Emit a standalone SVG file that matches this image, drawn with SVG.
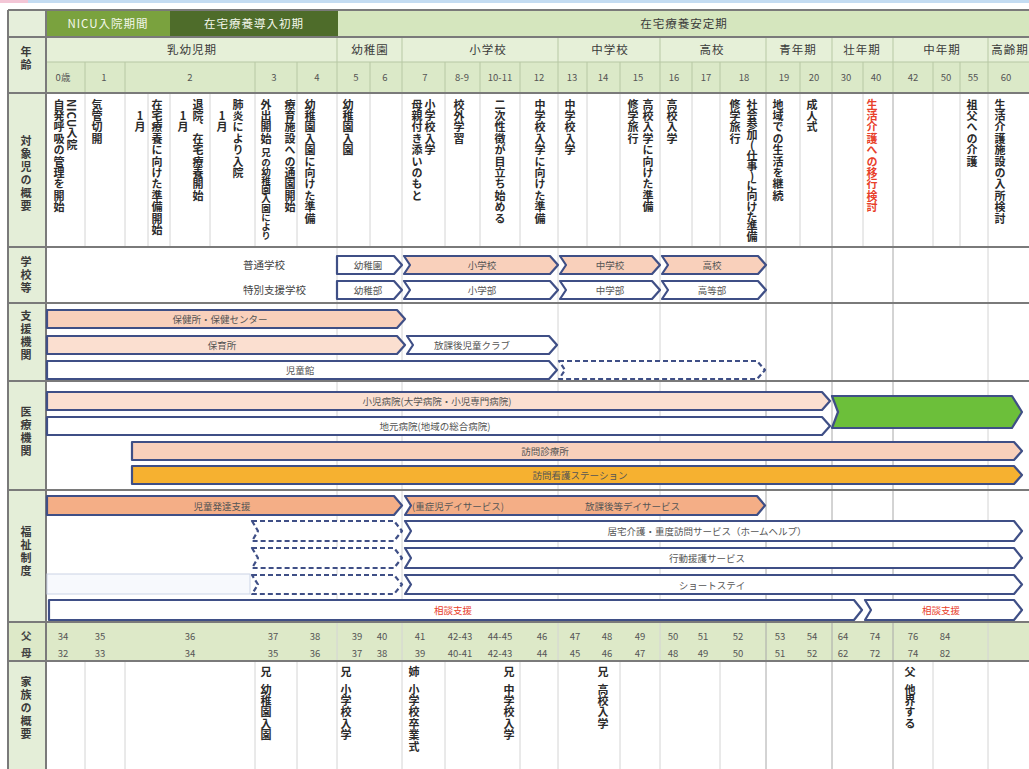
<svg xmlns="http://www.w3.org/2000/svg" width="1029" height="769" viewBox="0 0 1029 769">
<defs>
<style>
text{font-family:"Noto Sans CJK JP","Noto Sans",sans-serif;}
.v{writing-mode:vertical-rl;text-orientation:upright;font-size:11px;font-weight:bold;fill:#2a2a2a;letter-spacing:0.4px}
.lab{writing-mode:vertical-rl;text-orientation:upright;font-size:11px;font-weight:bold;fill:#3a3a3a;letter-spacing:2px}
.h{font-size:11.5px;fill:#3a3a3a;text-anchor:middle;letter-spacing:1px}
.hw{font-size:11.5px;fill:#f4f8ec;text-anchor:middle;letter-spacing:1px}
.n{font-size:9.5px;fill:#555;text-anchor:middle}
.bt{font-size:9.5px;fill:#555;text-anchor:middle}
.bs{font-size:9.5px;fill:#555;text-anchor:start}
.sl{font-size:10.5px;fill:#444}
.red{fill:#e8402a}
.bar{stroke:#3f4f86;stroke-width:2.2;stroke-linejoin:round}
.dash{stroke:#3f4f86;stroke-width:2.2;stroke-dasharray:5 3;fill:#fff;stroke-linejoin:round}
.pk{fill:#f9d0bb}
.pk2{fill:#fbdfd0}
.or{fill:#f4ae86}
.wh{fill:#fff}
.yl{fill:#f6b130}
.gr{fill:#6cbf3a}
.g{stroke:#d4d4d4;stroke-width:1}
.gh{stroke:#b7c8a4;stroke-width:1}
.sep{stroke:#7a7a7a;stroke-width:2}
</style>
</defs>
<rect x="0" y="0" width="1029" height="769" fill="#fff"/>
<rect x="0" y="0" width="28" height="3" fill="#f3c6d6"/>
<rect x="28" y="0" width="1001" height="3" fill="#c4dcf2"/>

<g id="header">
<rect x="8" y="10" width="1021" height="83" fill="#e2edd3"/>
<rect x="8" y="10" width="39" height="27" fill="#e6efdb"/>
<rect x="47" y="10" width="123" height="27" fill="#7aa23e"/>
<rect x="170" y="10" width="168" height="27" fill="#4e6c2a"/>
<rect x="338" y="10" width="691" height="27" fill="#d5e6be"/>
<rect x="47" y="37" width="982" height="25" fill="#e6f0d8"/>
<rect x="47" y="62" width="982" height="31" fill="#dbe9c8"/>
<text class="hw" x="108" y="28">NICU入院期間</text>
<text class="hw" x="254" y="28">在宅療養導入初期</text>
<text class="h" x="684" y="28">在宅療養安定期</text>
<g class="gh">
<line x1="337" y1="37" x2="337" y2="93"/><line x1="402" y1="37" x2="402" y2="93"/>
<line x1="558" y1="37" x2="558" y2="93"/><line x1="660" y1="37" x2="660" y2="93"/>
<line x1="766" y1="37" x2="766" y2="93"/><line x1="832" y1="37" x2="832" y2="93"/>
<line x1="893" y1="37" x2="893" y2="93"/><line x1="988" y1="37" x2="988" y2="93"/>
<line x1="85" y1="62" x2="85" y2="93"/><line x1="125" y1="62" x2="125" y2="93"/>
<line x1="255" y1="62" x2="255" y2="93"/><line x1="297" y1="62" x2="297" y2="93"/>
<line x1="370" y1="62" x2="370" y2="93"/><line x1="445" y1="62" x2="445" y2="93"/>
<line x1="480" y1="62" x2="480" y2="93"/><line x1="520" y1="62" x2="520" y2="93"/>
<line x1="587" y1="62" x2="587" y2="93"/><line x1="620" y1="62" x2="620" y2="93"/>
<line x1="692" y1="62" x2="692" y2="93"/><line x1="720" y1="62" x2="720" y2="93"/>
<line x1="800" y1="62" x2="800" y2="93"/><line x1="863" y1="62" x2="863" y2="93"/>
<line x1="933" y1="62" x2="933" y2="93"/><line x1="960" y1="62" x2="960" y2="93"/>
</g>
<text class="h" x="192" y="54">乳幼児期</text>
<text class="h" x="370" y="54">幼稚園</text>
<text class="h" x="488" y="54">小学校</text>
<text class="h" x="610" y="54">中学校</text>
<text class="h" x="712" y="54">高校</text>
<text class="h" x="798" y="54">青年期</text>
<text class="h" x="862" y="54">壮年期</text>
<text class="h" x="942" y="54">中年期</text>
<text class="h" x="1010" y="54">高齢期</text>
<g class="n">
<text x="63" y="81">0歳</text><text x="104" y="81">1</text><text x="190" y="81">2</text>
<text x="274" y="81">3</text><text x="317" y="81">4</text><text x="356" y="81">5</text>
<text x="385" y="81">6</text><text x="425" y="81">7</text><text x="462" y="81">8-9</text>
<text x="500" y="81">10-11</text><text x="539" y="81">12</text><text x="572" y="81">13</text>
<text x="603" y="81">14</text><text x="638" y="81">15</text><text x="674" y="81">16</text>
<text x="706" y="81">17</text><text x="744" y="81">18</text><text x="784" y="81">19</text>
<text x="814" y="81">20</text><text x="846" y="81">30</text><text x="876" y="81">40</text>
<text x="913" y="81">42</text><text x="946" y="81">50</text><text x="973" y="81">55</text>
<text x="1006" y="81">60</text>
</g>
</g>

<g id="leftcol">
<rect x="8" y="37" width="39" height="732" fill="#e4eed8"/>
<rect x="8" y="622" width="1021" height="39" fill="#dde9c8"/>
<text class="lab" x="26" y="46">年齢</text>
<text class="lab" x="26" y="135">対象児の概要</text>
<text class="lab" x="26" y="256">学校等</text>
<text class="lab" x="26" y="310">支援機関</text>
<text class="lab" x="26" y="406">医療機関</text>
<text class="lab" x="26" y="526">福祉制度</text>
<text class="sl" x="21" y="640" font-weight="bold">父</text>
<text class="sl" x="21" y="657" font-weight="bold">母</text>
<text class="lab" x="26" y="676">家族の概要</text>
</g>

<g id="grid" class="g">
<line x1="85" y1="93" x2="85" y2="247"/><line x1="125" y1="93" x2="125" y2="247"/>
<line x1="148" y1="93" x2="148" y2="247"/><line x1="170" y1="93" x2="170" y2="247"/>
<line x1="210" y1="93" x2="210" y2="247"/><line x1="255" y1="93" x2="255" y2="247"/>
<line x1="297" y1="93" x2="297" y2="247"/><line x1="337" y1="93" x2="337" y2="769"/>
<line x1="370" y1="93" x2="370" y2="247"/><line x1="402" y1="93" x2="402" y2="769"/>
<line x1="445" y1="93" x2="445" y2="247"/><line x1="480" y1="93" x2="480" y2="247"/>
<line x1="520" y1="93" x2="520" y2="247"/><line x1="558" y1="93" x2="558" y2="769"/>
<line x1="587" y1="93" x2="587" y2="247"/><line x1="620" y1="93" x2="620" y2="247"/>
<line x1="660" y1="93" x2="660" y2="769"/><line x1="692" y1="93" x2="692" y2="247"/>
<line x1="720" y1="93" x2="720" y2="247"/><line x1="766" y1="93" x2="766" y2="769" stroke="#a8a8a8"/>
<line x1="800" y1="93" x2="800" y2="247"/><line x1="832" y1="93" x2="832" y2="769" stroke="#a8a8a8"/>
<line x1="863" y1="93" x2="863" y2="247"/><line x1="893" y1="93" x2="893" y2="769" stroke="#a8a8a8"/>
<line x1="933" y1="93" x2="933" y2="247"/><line x1="960" y1="93" x2="960" y2="247"/>
<line x1="988" y1="93" x2="988" y2="769"/>
<line x1="85" y1="661" x2="85" y2="769"/><line x1="125" y1="661" x2="125" y2="769"/>
<line x1="255" y1="661" x2="255" y2="769"/><line x1="297" y1="661" x2="297" y2="769"/>
<line x1="445" y1="661" x2="445" y2="769"/><line x1="520" y1="661" x2="520" y2="769"/>
<line x1="620" y1="661" x2="620" y2="769"/><line x1="720" y1="661" x2="720" y2="769"/>
<line x1="933" y1="661" x2="933" y2="769"/>
</g>

<g id="separators" class="sep">
<line x1="8" y1="10" x2="1029" y2="10"/>
<line x1="8" y1="37" x2="1029" y2="37"/>
<line x1="47" y1="62" x2="1029" y2="62" stroke="#b7c8a4" stroke-width="1"/>
<line x1="8" y1="93" x2="1029" y2="93"/>
<line x1="8" y1="247" x2="1029" y2="247"/>
<line x1="8" y1="303" x2="1029" y2="303"/>
<line x1="8" y1="381" x2="1029" y2="381"/>
<line x1="8" y1="490" x2="1029" y2="490"/>
<line x1="8" y1="622" x2="1029" y2="622"/>
<line x1="8" y1="661" x2="1029" y2="661"/>
<line x1="8" y1="10" x2="8" y2="769"/>
<line x1="46" y1="10" x2="46" y2="769"/>
</g>

<g id="events">
<text class="v" x="72" y="99" style="text-orientation:mixed">NICU入院</text>
<text class="v" x="59" y="99">自発呼吸の管理を開始</text>
<text class="v" x="97" y="99">気管切開</text>
<text class="v" x="140" y="110">1月</text>
<text class="v" x="157" y="99">在宅療養に向けた準備開始</text>
<text class="v" x="183" y="110">1月</text>
<text class="v" x="198" y="99">退院、在宅療養開始</text>
<text class="v" x="222" y="110">1月</text>
<text class="v" x="238" y="99">肺炎により入院</text>
<text class="v" x="266" y="99">外出開始</text>
<text class="v" x="266" y="148" style="font-size:9.5px;letter-spacing:-0.3px">兄の幼稚園入園により</text>
<text class="v" x="290" y="99">療育施設への通園開始</text>
<text class="v" x="310" y="99">幼稚園入園に向けた準備</text>
<text class="v" x="348" y="99">幼稚園入園</text>
<text class="v" x="430" y="99">小学校入学</text>
<text class="v" x="417" y="99">母親付き添いのもと</text>
<text class="v" x="459" y="99">校外学習</text>
<text class="v" x="500" y="99">二次性徴が目立ち始める</text>
<text class="v" x="540" y="99">中学校入学に向けた準備</text>
<text class="v" x="570" y="99">中学校入学</text>
<text class="v" x="633" y="99">修学旅行</text>
<text class="v" x="648" y="99">高校入学に向けた準備</text>
<text class="v" x="672" y="99">高校入学</text>
<text class="v" x="735" y="99">修学旅行</text>
<text class="v" x="752" y="99" style="letter-spacing:-0.8px">社会参加(仕事)に向けた準備</text>
<text class="v" x="778" y="99">地域での生活を継続</text>
<text class="v" x="812" y="99">成人式</text>
<text class="v red" x="872" y="99">生活介護への移行検討</text>
<text class="v" x="972" y="99">祖父への介護</text>
<text class="v" x="1000" y="99">生活介護施設の入所検討</text>
</g>

<g id="school">
<text class="sl" x="243" y="269">普通学校</text>
<text class="sl" x="243" y="294">特別支援学校</text>
<polygon class="bar wh" points="337,256 394,256 402,265 394,274 337,274"/>
<polygon class="bar pk" points="404,256 550,256 558,265 550,274 404,274 410,265"/>
<polygon class="bar pk" points="560,256 652,256 660,265 652,274 560,274 566,265"/>
<polygon class="bar pk" points="662,256 758,256 766,265 758,274 662,274 668,265"/>
<polygon class="bar wh" points="337,281 394,281 402,290 394,299 337,299"/>
<polygon class="bar wh" points="404,281 550,281 558,290 550,299 404,299 410,290"/>
<polygon class="bar wh" points="560,281 652,281 660,290 652,299 560,299 566,290"/>
<polygon class="bar wh" points="662,281 758,281 766,290 758,299 662,299 668,290"/>
<text class="bt" x="368" y="269">幼稚園</text>
<text class="bt" x="482" y="269">小学校</text>
<text class="bt" x="610" y="269">中学校</text>
<text class="bt" x="712" y="269">高校</text>
<text class="bt" x="368" y="294">幼稚部</text>
<text class="bt" x="482" y="294">小学部</text>
<text class="bt" x="610" y="294">中学部</text>
<text class="bt" x="712" y="294">高等部</text>
</g>

<g id="support">
<polygon class="bar pk" points="47,310 397,310 405,319 397,328 47,328"/>
<polygon class="bar pk2" points="47,336 397,336 405,345 397,354 47,354"/>
<polygon class="bar wh" points="407,336 549,336 557,345 549,354 407,354 413,345"/>
<polygon class="bar wh" points="47,361 549,361 557,370 549,379 47,379"/>
<polygon class="dash" points="559,361 757,361 765,370 757,379 559,379 565,370"/>
<text class="bt" x="220" y="323">保健所・保健センター</text>
<text class="bt" x="222" y="349">保育所</text>
<text class="bt" x="472" y="349">放課後児童クラブ</text>
<text class="bt" x="300" y="374">児童館</text>
</g>

<g id="medical">
<polygon class="bar pk2" points="47,392 822,392 830,401 822,410 47,410"/>
<polygon class="bar wh" points="47,417 822,417 830,426 822,435 47,435"/>
<polygon class="bar gr" points="832,396 1012,396 1022,412 1012,428 832,428 838,412"/>
<polygon class="bar pk" points="132,442 1014,442 1022,451 1014,460 132,460"/>
<polygon class="bar yl" points="132,466 1014,466 1022,475 1014,484 132,484"/>
<text class="bt" x="437" y="405">小児病院(大学病院・小児専門病院)</text>
<text class="bt" x="435" y="430">地元病院(地域の総合病院)</text>
<text class="bt" x="545" y="455">訪問診療所</text>
<text class="bt" x="580" y="479">訪問看護ステーション</text>
</g>

<g id="welfare">
<rect x="47" y="574" width="203" height="20" fill="#f7f9fd" stroke="#cbd4e6" stroke-width="1"/>
<polygon class="bar or" points="47,496 394,496 402,505.5 394,515 47,515"/>
<polygon class="bar or" points="405,496 757,496 765,505.5 757,515 405,515 411,505.5"/>
<polygon class="dash" points="252,521 394,521 402,531 394,541 252,541 258,531"/>
<polygon class="dash" points="252,548 394,548 402,558 394,568 252,568 258,558"/>
<polygon class="dash" points="252,575 394,575 402,584.5 394,594 252,594 258,584.5"/>
<polygon class="bar wh" points="405,521 1014,521 1022,531 1014,541 405,541 411,531"/>
<polygon class="bar wh" points="405,548 1014,548 1022,558 1014,568 405,568 411,558"/>
<polygon class="bar wh" points="405,575 1014,575 1022,584.5 1014,594 405,594 411,584.5"/>
<polygon class="bar wh" points="49,600 854,600 862,610 854,620 49,620"/>
<polygon class="bar wh" points="865,600 1014,600 1022,610 1014,620 865,620 871,610"/>
<text class="bt" x="222" y="510">児童発達支援</text>
<text class="bs" x="412" y="510">(重症児デイサービス)</text>
<text class="bs" x="585" y="510">放課後等デイサービス</text>
<text class="bt" x="707" y="535">居宅介護・重度訪問サービス（ホームヘルプ）</text>
<text class="bt" x="707" y="562">行動援護サービス</text>
<text class="bt" x="712" y="589">ショートステイ</text>
<text class="bt red" x="453" y="614">相談支援</text>
<text class="bt red" x="941" y="614">相談支援</text>
</g>

<g id="parents" class="n">
<text x="63" y="640">34</text><text x="100" y="640">35</text><text x="190" y="640">36</text>
<text x="273" y="640">37</text><text x="315" y="640">38</text><text x="357" y="640">39</text>
<text x="382" y="640">40</text><text x="420" y="640">41</text><text x="460" y="640">42-43</text>
<text x="500" y="640">44-45</text><text x="542" y="640">46</text><text x="575" y="640">47</text>
<text x="607" y="640">48</text><text x="640" y="640">49</text><text x="673" y="640">50</text>
<text x="703" y="640">51</text><text x="738" y="640">52</text><text x="780" y="640">53</text>
<text x="812" y="640">54</text><text x="843" y="640">64</text><text x="875" y="640">74</text>
<text x="913" y="640">76</text><text x="945" y="640">84</text>
<text x="63" y="657">32</text><text x="100" y="657">33</text><text x="190" y="657">34</text>
<text x="273" y="657">35</text><text x="315" y="657">36</text><text x="357" y="657">37</text>
<text x="382" y="657">38</text><text x="420" y="657">39</text><text x="460" y="657">40-41</text>
<text x="500" y="657">42-43</text><text x="542" y="657">44</text><text x="575" y="657">45</text>
<text x="607" y="657">46</text><text x="640" y="657">47</text><text x="673" y="657">48</text>
<text x="703" y="657">49</text><text x="738" y="657">50</text><text x="780" y="657">51</text>
<text x="812" y="657">52</text><text x="843" y="657">62</text><text x="875" y="657">72</text>
<text x="913" y="657">74</text><text x="945" y="657">82</text>
</g>

<g id="family">
<text class="v" x="266" y="666">兄</text>
<text class="v" x="266" y="684">幼稚園入園</text>
<text class="v" x="346" y="666">兄</text>
<text class="v" x="346" y="684">小学校入学</text>
<text class="v" x="414" y="666">姉</text>
<text class="v" x="414" y="684">小学校卒業式</text>
<text class="v" x="509" y="666">兄</text>
<text class="v" x="509" y="684">中学校入学</text>
<text class="v" x="603" y="666">兄</text>
<text class="v" x="603" y="684">高校入学</text>
<text class="v" x="910" y="666">父</text>
<text class="v" x="910" y="684">他界する</text>
</g>
</svg>
